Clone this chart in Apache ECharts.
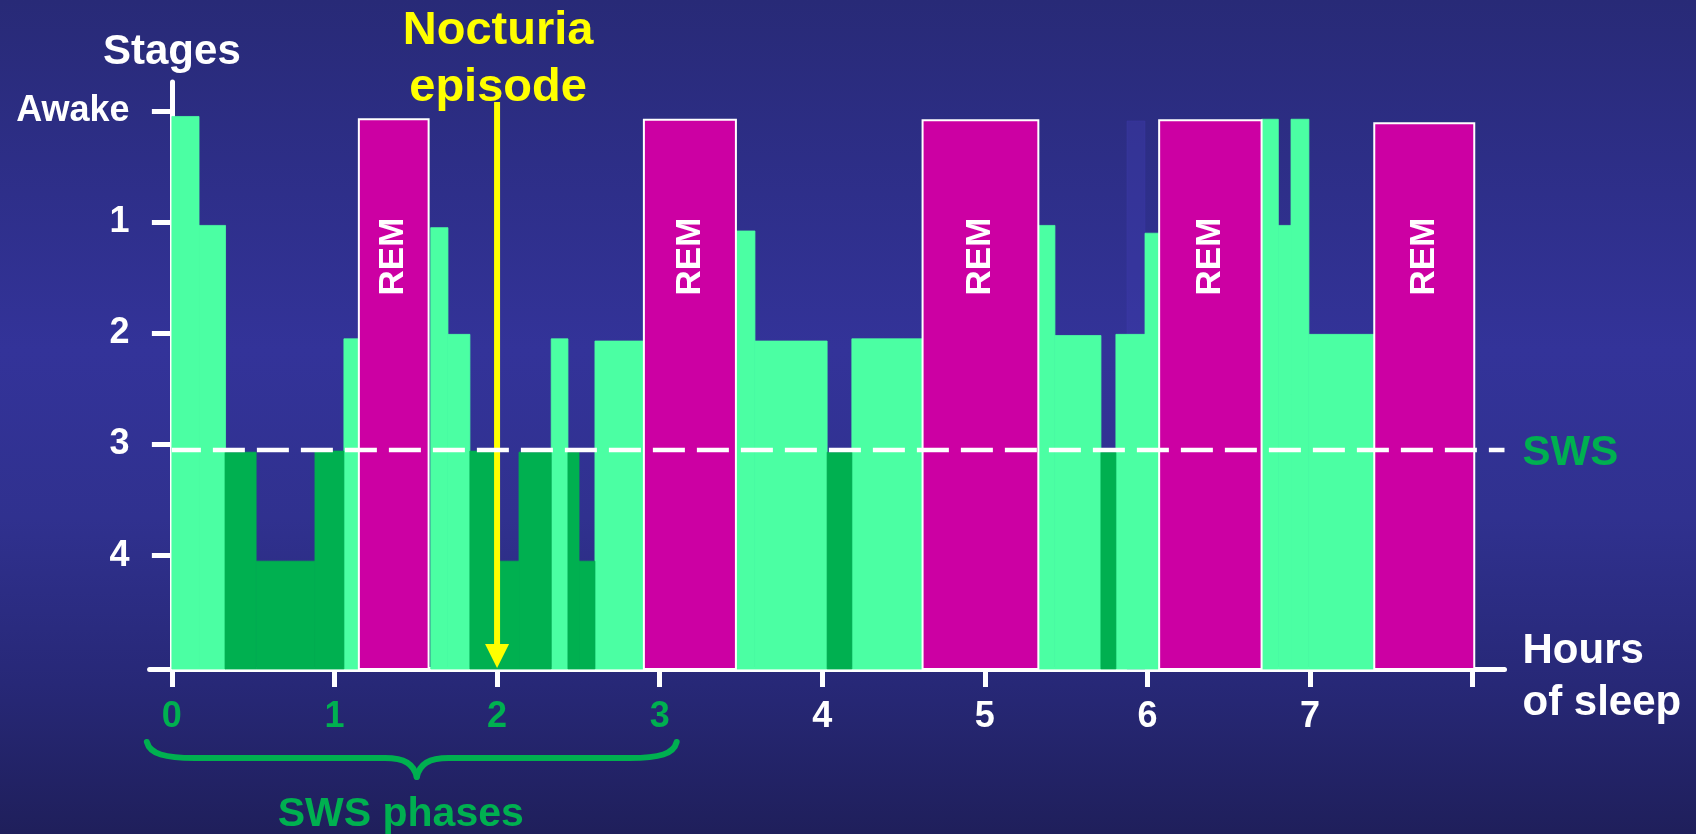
<!DOCTYPE html>
<html>
<head>
<meta charset="utf-8">
<title>Sleep stages across the night</title>
<script src="https://cdn.jsdelivr.net/npm/echarts@6/dist/echarts.min.js"></script>
<style>
  html, body { margin: 0; padding: 0; background: #2b2c80; }
  #chart { width: 1696px; height: 834px; }
</style>
</head>
<body>
<div id="chart"></div>
<script>
// Hypnogram segments: [start hour, end hour, stage depth]  (0 = awake ... 4 = deepest)
const lightSleep = [
  [0.000, 0.167, 0.05],
  [0.167, 0.330, 1.03],
  [1.058, 1.150, 2.05],
  [1.592, 1.698, 1.05],
  [1.698, 1.833, 2.01],
  [2.333, 2.436, 2.05],
  [2.602, 2.903, 2.07],
  [3.469, 3.586, 1.08],
  [3.586, 4.030, 2.07],
  [4.182, 4.617, 2.05],
  [5.329, 5.431, 1.03],
  [5.431, 5.714, 2.02],
  [5.806, 5.985, 2.01],
  [5.985, 6.071, 1.10],
  [6.702, 6.805, 0.075],
  [6.805, 6.883, 1.03],
  [6.883, 6.993, 0.075],
  [6.993, 7.395, 2.01]
];

// Slow-wave sleep (stages 3 and 4)
const deepSleep = [
  [0.327, 0.518, 3.07],
  [0.518, 0.880, 4.05],
  [0.880, 1.058, 3.06],
  [1.833, 2.005, 3.06],
  [2.005, 2.135, 4.05],
  [2.135, 2.333, 3.07],
  [2.436, 2.504, 3.07],
  [2.504, 2.602, 4.05],
  [4.030, 4.182, 3.07],
  [5.714, 5.806, 3.07]
];

// REM periods
const remSleep = [
  [1.150, 1.579, 0.075],
  [2.903, 3.469, 0.08],
  [4.617, 5.329, 0.085],
  [6.072, 6.702, 0.085],
  [7.395, 8.010, 0.11]
];

// Faint brief arousal trace before the fourth REM period
const faintTrace = [[5.874, 5.985, 0.09]];

const stageTicks = [0, 1, 2, 3, 4];
const stageLabels = ['Awake', '1', '2', '3', '4'];
const hourTicks = [0, 1, 2, 3, 4, 5, 6, 7, 8];
const hourLabels = [0, 1, 2, 3, 4, 5, 6, 7];
const swsPhaseHours = [0, 3];      // span of the early-night SWS phases
const swsThreshold = 3.05;         // SWS boundary line
const nocturiaHour = 2;            // time of the nocturia episode

const X_MIN = -0.137, X_MAX = 8.196;
const Y_MIN = -0.26,  Y_MAX = 5.02;

const FONT = '"Liberation Sans", Arial, Helvetica, sans-serif';
const WHITE = '#ffffff';
const GREEN = '#00b050';
const LIGHT = '#4bffa3';
const MAGENTA = '#cc00a3';
const YELLOW = '#ffff00';

function segmentRenderer(fill, withLabel) {
  return function (params, api) {
    const start = api.value(0), end = api.value(1), stage = api.value(2);
    const p0 = api.coord([start, stage]);
    const p1 = api.coord([end, Y_MAX]);
    const rect = {
      type: 'rect',
      shape: { x: p0[0], y: p0[1], width: p1[0] - p0[0], height: p1[1] - p0[1] },
      style: withLabel
        ? { fill: fill, stroke: WHITE, lineWidth: 2 }
        : { fill: fill, stroke: fill, lineWidth: 0.8 }
    };
    if (!withLabel) return rect;
    const mid = api.coord([(start + end) / 2, 1.31]);
    return {
      type: 'group',
      children: [
        rect,
        {
          type: 'text',
          x: mid[0], y: mid[1],
          rotation: Math.PI / 2,
          style: {
            text: 'REM', fill: WHITE,
            font: 'bold 35px ' + FONT,
            align: 'center', verticalAlign: 'middle'
          }
        }
      ]
    };
  };
}

function arrowRenderer(params, api) {
  const h = api.value(0);
  const top = api.coord([h, -0.08]);
  const tip = api.coord([h, Y_MAX]);
  const headLen = 25, headHalf = 12;
  return {
    type: 'group',
    children: [
      { type: 'line',
        shape: { x1: top[0], y1: top[1], x2: tip[0], y2: tip[1] - headLen + 2 },
        style: { stroke: YELLOW, lineWidth: 6 } },
      { type: 'polygon',
        shape: { points: [[tip[0] - headHalf, tip[1] - headLen], [tip[0] + headHalf, tip[1] - headLen], [tip[0], tip[1] - 1]] },
        style: { fill: YELLOW } }
    ]
  };
}

const chart = echarts.init(document.getElementById('chart'));

const option = {
  animation: false,
  backgroundColor: {
    type: 'linear', x: 0, y: 0, x2: 0, y2: 1,
    colorStops: [
      { offset: 0, color: '#282a77' },
      { offset: 0.42, color: '#333399' },
      { offset: 0.62, color: '#30318f' },
      { offset: 0.82, color: '#272877' },
      { offset: 1, color: '#1f1f5b' }
    ]
  },
  grid: { left: 149.6, right: 191.5, top: 82, bottom: 165, containLabel: false, outerBoundsMode: 'none' },
  xAxis: {
    type: 'value',
    min: X_MIN, max: X_MAX,
    axisLine: { show: true, onZero: false, lineStyle: { color: WHITE, width: 5 } },
    axisTick: { show: true, customValues: hourTicks, length: 18, lineStyle: { color: WHITE, width: 5 } },
    axisLabel: {
      show: true, customValues: hourLabels, margin: 30,
      fontFamily: FONT, fontWeight: 'bold', fontSize: 36,
      color: function (v) { return (v >= swsPhaseHours[0] && v <= swsPhaseHours[1]) ? GREEN : WHITE; }
    },
    splitLine: { show: false }
  },
  yAxis: {
    type: 'value',
    inverse: true,
    min: Y_MIN, max: Y_MAX,
    name: 'Stages',
    nameLocation: 'start',
    nameGap: 9,
    nameTextStyle: { color: WHITE, fontFamily: FONT, fontWeight: 'bold', fontSize: 42 },
    axisLine: { show: true, onZero: true, lineStyle: { color: WHITE, width: 5 } },
    axisTick: { show: true, customValues: stageTicks, length: 20, lineStyle: { color: WHITE, width: 5 } },
    axisLabel: {
      show: true, customValues: stageTicks, margin: 20,
      fontFamily: FONT, fontWeight: 'bold', fontSize: 36, color: WHITE,
      formatter: function (v) { return stageLabels[stageTicks.indexOf(Math.round(v))]; }
    },
    splitLine: { show: false }
  },
  series: [
    { type: 'custom', name: 'trace', data: faintTrace,
      renderItem: segmentRenderer('rgba(62,60,170,0.45)', false) },
    { type: 'custom', name: 'light', data: lightSleep,
      renderItem: segmentRenderer(LIGHT, false) },
    { type: 'custom', name: 'SWS', data: deepSleep,
      renderItem: segmentRenderer(GREEN, false) },
    { type: 'custom', name: 'REM', data: remSleep,
      renderItem: segmentRenderer(MAGENTA, true) },
    {
      type: 'line', name: 'SWS threshold',
      data: [[0, swsThreshold], [X_MAX, swsThreshold]],
      symbol: 'none', silent: true,
      lineStyle: { color: WHITE, width: 4.5, type: [32, 12], dashOffset: 3 },
      endLabel: {
        show: true, formatter: 'SWS', distance: 18, offset: [0, 3],
        color: GREEN, fontFamily: FONT, fontWeight: 'bold', fontSize: 42
      }
    },
    { type: 'custom', name: 'nocturia', data: [[nocturiaHour]],
      renderItem: arrowRenderer }
  ]
};

chart.setOption(option);

// Annotations anchored to axis positions
const px = function (h) { return chart.convertToPixel({ xAxisIndex: 0 }, h); };
const L = px(swsPhaseHours[0]) - 25;
const R = px(swsPhaseHours[1]) + 17;
const T = (L + R) / 2 + 5;
const yTop = 742, yMid = 758, yTip = 777;
const braceStyle = { stroke: GREEN, lineWidth: 6, lineCap: 'round', fill: null };

function curve(x1, y1, c1x, c1y, c2x, c2y, x2, y2) {
  return { type: 'bezierCurve',
    shape: { x1: x1, y1: y1, cpx1: c1x, cpy1: c1y, cpx2: c2x, cpy2: c2y, x2: x2, y2: y2 },
    style: braceStyle };
}
function seg(x1, y1, x2, y2) {
  return { type: 'line', shape: { x1: x1, y1: y1, x2: x2, y2: y2 }, style: braceStyle };
}

const nx = px(nocturiaHour);
const axisEnd = px(X_MAX);

chart.setOption({
  graphic: [
    {
      type: 'group', z: 10,
      children: [
        curve(L, yTop, L + 3, yMid - 4, L + 18, yMid, L + 48, yMid),
        seg(L + 48, yMid, T - 32, yMid),
        curve(T - 32, yMid, T - 12, yMid, T - 3, yMid + 6, T, yTip),
        curve(T, yTip, T + 3, yMid + 6, T + 12, yMid, T + 32, yMid),
        seg(T + 32, yMid, R - 47, yMid),
        curve(R - 47, yMid, R - 17, yMid, R - 3, yMid - 4, R, yTop)
      ]
    },
    {
      type: 'text', z: 10,
      x: (L + R) / 2 - 11, y: 815,
      style: {
        text: 'SWS phases', fill: GREEN, font: 'bold 41px ' + FONT,
        align: 'center', verticalAlign: 'middle'
      }
    },
    {
      type: 'text', z: 10,
      x: nx + 1, y: 60,
      style: {
        text: 'Nocturia\nepisode', fill: YELLOW, font: 'bold 47px ' + FONT,
        lineHeight: 57, align: 'center', verticalAlign: 'middle'
      }
    },
    {
      type: 'text', z: 10,
      x: axisEnd + 18, y: 677,
      style: {
        text: 'Hours\nof sleep', fill: WHITE, font: 'bold 42px ' + FONT,
        lineHeight: 52, align: 'left', verticalAlign: 'middle'
      }
    }
  ]
});
</script>
</body>
</html>
